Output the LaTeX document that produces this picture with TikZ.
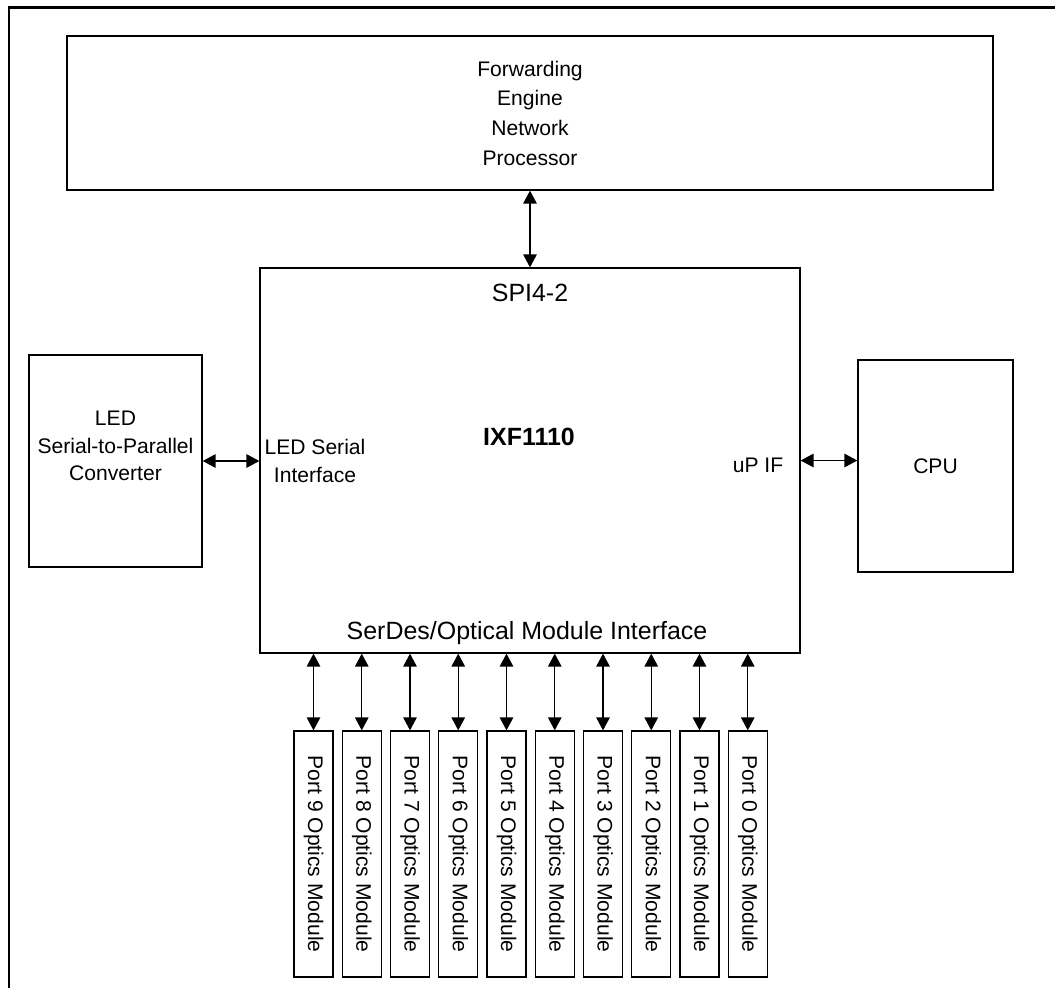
\documentclass[tikz,border=0pt]{standalone}
\usepackage{fontspec}
\setmainfont{Liberation Sans}
\usetikzlibrary{arrows.meta}

\tikzset{
  block/.style={draw, line width=0.75pt, inner sep=0pt, align=center, font=\fontsize{12}{16.9}\selectfont},
  portbox/.style={block, minimum width=0.78cm, minimum height=4.92cm},
  link/.style={line width=0.8pt, {Triangle[length=0.26cm, width=0.27cm]}-{Triangle[length=0.26cm, width=0.27cm]}},
  bigtext/.style={font=\fontsize{14.2}{17}\selectfont, inner sep=0pt}
}

\begin{document}
\begin{tikzpicture}[x=0.02cm, y=-0.02cm]

\useasboundingbox (0,0) rectangle (1055,988);

% outer frame (only top and left edge visible)
\draw[line width=1.7pt] (9,988) -- (9,7.5) -- (1055,7.5);

% forwarding engine
\node[block, minimum width=18.52cm, minimum height=3.08cm] (fe) at (530,113) {Forwarding\\Engine\\Network\\Processor};

% main device
\node[block, minimum width=10.8cm, minimum height=7.7cm] (ixf) at (530,460.5) {};
\node[bigtext] (spi) at (530,293) {SPI4-2};
\node[bigtext, font=\fontsize{14.2}{17}\selectfont\bfseries] (name) at (529,437) {IXF1110};
\node[inner sep=0pt, align=center, font=\fontsize{12}{15.6}\selectfont] (ledif) at (315,461) {LED Serial\\Interface};
\node[inner sep=0pt, font=\fontsize{12}{15.6}\selectfont] (upif) at (758,465) {uP IF};
\node[bigtext] (serdes) at (527,633) {SerDes/Optical Module Interface};

% side blocks
\node[block, minimum width=3.46cm, minimum height=4.24cm] (led) at (115.5,461) {};
\node[inner sep=0pt, align=center, font=\fontsize{12}{15.6}\selectfont] (ledtext) at (115.5,446) {LED\\Serial-to-Parallel\\Converter};
\node[block, minimum width=3.1cm, minimum height=4.24cm] (cpu) at (935.5,466) {CPU};

% optics modules
\node[portbox] (port9) at (313.5,854) {\rotatebox{-90}{Port 9 Optics Module}};
\node[portbox] (port8) at (361.75,854) {\rotatebox{-90}{Port 8 Optics Module}};
\node[portbox] (port7) at (410,854) {\rotatebox{-90}{Port 7 Optics Module}};
\node[portbox] (port6) at (458.25,854) {\rotatebox{-90}{Port 6 Optics Module}};
\node[portbox] (port5) at (506.5,854) {\rotatebox{-90}{Port 5 Optics Module}};
\node[portbox] (port4) at (554.75,854) {\rotatebox{-90}{Port 4 Optics Module}};
\node[portbox] (port3) at (603,854) {\rotatebox{-90}{Port 3 Optics Module}};
\node[portbox] (port2) at (651.25,854) {\rotatebox{-90}{Port 2 Optics Module}};
\node[portbox] (port1) at (699.5,854) {\rotatebox{-90}{Port 1 Optics Module}};
\node[portbox] (port0) at (747.75,854) {\rotatebox{-90}{Port 0 Optics Module}};

% connections
\draw[link] (fe.south) -- (ixf.north);
\draw[link] (led.east) -- (led.east -| ixf.west);
\draw[link] (ixf.east) -- (ixf.east -| cpu.west);

\draw[link] (port9.north |- ixf.south) -- (port9.north);
\draw[link] (port8.north |- ixf.south) -- (port8.north);
\draw[link] (port7.north |- ixf.south) -- (port7.north);
\draw[link] (port6.north |- ixf.south) -- (port6.north);
\draw[link] (port5.north |- ixf.south) -- (port5.north);
\draw[link] (port4.north |- ixf.south) -- (port4.north);
\draw[link] (port3.north |- ixf.south) -- (port3.north);
\draw[link] (port2.north |- ixf.south) -- (port2.north);
\draw[link] (port1.north |- ixf.south) -- (port1.north);
\draw[link] (port0.north |- ixf.south) -- (port0.north);

\end{tikzpicture}
\end{document}
